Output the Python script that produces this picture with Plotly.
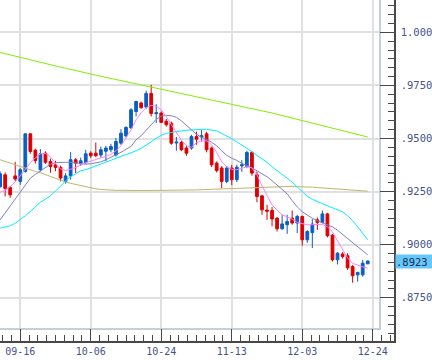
import plotly.graph_objects as go

# ---------------- data ----------------
bars = list(range(-4, 70))  # trading-day index; 0 = 09-16

opens = [0.9273, 0.9329, 0.9269, 0.9324, 0.9298, 0.9345, 0.9522, 0.9445, 0.9353, 0.9431,
         0.9392, 0.9376, 0.9364, 0.9298, 0.9324, 0.9400, 0.9381, 0.9387, 0.9431, 0.9431,
         0.9422, 0.9440, 0.9447, 0.9422, 0.9478, 0.9512, 0.9550, 0.9627, 0.9667, 0.9648,
         0.9712, 0.9617, 0.9620, 0.9581, 0.9572, 0.9479, 0.9481, 0.9455, 0.9455, 0.9509,
         0.9507, 0.9522, 0.9455, 0.9384, 0.9361, 0.9298, 0.9361, 0.9306, 0.9371, 0.9368,
         0.9434, 0.9329, 0.9230, 0.9163, 0.9161, 0.9125, 0.9075, 0.9094, 0.9125, 0.9102,
         0.9133, 0.9023, 0.9057, 0.9117, 0.9105, 0.9145, 0.9045, 0.8929, 0.8956, 0.8948,
         0.8897, 0.8858, 0.8858, 0.8910]
highs = [0.9345, 0.9340, 0.9277, 0.9390, 0.9361, 0.9524, 0.9524, 0.9452, 0.9450, 0.9440,
         0.9405, 0.9395, 0.9372, 0.9337, 0.9436, 0.9408, 0.9410, 0.9447, 0.9440, 0.9481,
         0.9462, 0.9466, 0.9475, 0.9502, 0.9544, 0.9558, 0.9643, 0.9678, 0.9674, 0.9725,
         0.9753, 0.9662, 0.9627, 0.9592, 0.9580, 0.9507, 0.9490, 0.9466, 0.9517, 0.9532,
         0.9541, 0.9532, 0.9462, 0.9392, 0.9370, 0.9370, 0.9376, 0.9376, 0.9398, 0.9443,
         0.9440, 0.9345, 0.9235, 0.9188, 0.9177, 0.9130, 0.9141, 0.9141, 0.9161, 0.9141,
         0.9137, 0.9068, 0.9120, 0.9128, 0.9161, 0.9150, 0.9050, 0.8965, 0.8965, 0.8960,
         0.8905, 0.8873, 0.8929, 0.8925]
lows = [0.9268, 0.9227, 0.9221, 0.9300, 0.9282, 0.9340, 0.9428, 0.9382, 0.9345, 0.9380,
        0.9339, 0.9346, 0.9298, 0.9287, 0.9306, 0.9337, 0.9372, 0.9380, 0.9408, 0.9412,
        0.9410, 0.9393, 0.9435, 0.9415, 0.9470, 0.9505, 0.9545, 0.9604, 0.9640, 0.9640,
        0.9604, 0.9573, 0.9572, 0.9556, 0.9470, 0.9443, 0.9440, 0.9418, 0.9447, 0.9470,
        0.9486, 0.9435, 0.9366, 0.9340, 0.9267, 0.9290, 0.9280, 0.9295, 0.9343, 0.9360,
        0.9325, 0.9200, 0.9141, 0.9117, 0.9086, 0.9062, 0.9070, 0.9051, 0.9094, 0.9055,
        0.8995, 0.9009, 0.8984, 0.9070, 0.9100, 0.9035, 0.8921, 0.8907, 0.8935, 0.8882,
        0.8821, 0.8826, 0.8850, 0.8908]
closes = [0.9334, 0.9265, 0.9235, 0.9309, 0.9353, 0.9522, 0.9439, 0.9396, 0.9428, 0.9388,
          0.9368, 0.9364, 0.9314, 0.9324, 0.9400, 0.9384, 0.9395, 0.9428, 0.9419, 0.9419,
          0.9447, 0.9455, 0.9462, 0.9486, 0.9525, 0.9552, 0.9635, 0.9674, 0.9645, 0.9712,
          0.9618, 0.9621, 0.9576, 0.9565, 0.9478, 0.9483, 0.9447, 0.9431, 0.9509, 0.9497,
          0.9513, 0.9447, 0.9376, 0.9349, 0.9298, 0.9361, 0.9306, 0.9365, 0.9376, 0.9434,
          0.9337, 0.9227, 0.9164, 0.9158, 0.9121, 0.9075, 0.9098, 0.9109, 0.9102, 0.9133,
          0.9023, 0.9062, 0.9097, 0.9105, 0.9145, 0.9042, 0.8929, 0.8960, 0.8944, 0.8891,
          0.8854, 0.8869, 0.8913, 0.8923]

ma_pink = [0.9247, 0.9256, 0.9273, 0.9296, 0.9324, 0.9353, 0.9386, 0.9409, 0.9428, 0.9430,
           0.9414, 0.9381, 0.9357, 0.9350, 0.9355, 0.9364, 0.9376, 0.9386, 0.9393, 0.9400,
           0.9407, 0.9416, 0.9426, 0.9442, 0.9466, 0.9503, 0.9541, 0.9588, 0.9621, 0.9645,
           0.9656, 0.9652, 0.9635, 0.9602, 0.9564, 0.9527, 0.9492, 0.9466, 0.9459, 0.9480,
           0.9489, 0.9489, 0.9470, 0.9435, 0.9390, 0.9367, 0.9355, 0.9353, 0.9360, 0.9367,
           0.9362, 0.9329, 0.9277, 0.9230, 0.9188, 0.9162, 0.9141, 0.9131, 0.9120, 0.9105,
           0.9098, 0.9094, 0.9094, 0.9096, 0.9096, 0.9084, 0.9061, 0.9018, 0.8976, 0.8938,
           0.8912, 0.8903, 0.8896, 0.8889]
ma_purple = [0.9117, 0.9150, 0.9181, 0.9211, 0.9244, 0.9280, 0.9313, 0.9331, 0.9348, 0.9364,
             0.9379, 0.9386, 0.9388, 0.9388, 0.9388, 0.9386, 0.9383, 0.9379, 0.9381, 0.9386,
             0.9390, 0.9400, 0.9411, 0.9421, 0.9435, 0.9449, 0.9463, 0.9494, 0.9513, 0.9539,
             0.9567, 0.9590, 0.9605, 0.9609, 0.9607, 0.9600, 0.9583, 0.9562, 0.9541, 0.9520,
             0.9506, 0.9496, 0.9482, 0.9466, 0.9442, 0.9421, 0.9407, 0.9397, 0.9383, 0.9374,
             0.9362, 0.9348, 0.9334, 0.9320, 0.9301, 0.9282, 0.9263, 0.9240, 0.9207, 0.9178,
             0.9155, 0.9138, 0.9124, 0.9113, 0.9103, 0.9096, 0.9084, 0.9068, 0.9049, 0.9030,
             0.9011, 0.8990, 0.8971, 0.8952]
ma_cyan = [0.9078, 0.9082, 0.9089, 0.9101, 0.9117, 0.9136, 0.9157, 0.9178, 0.9200, 0.9214,
           0.9230, 0.9254, 0.9275, 0.9301, 0.9320, 0.9334, 0.9348, 0.9353, 0.9362, 0.9371,
           0.9381, 0.9388, 0.9397, 0.9407, 0.9416, 0.9423, 0.9433, 0.9442, 0.9454, 0.9468,
           0.9484, 0.9501, 0.9515, 0.9524, 0.9529, 0.9534, 0.9536, 0.9539, 0.9541, 0.9541,
           0.9543, 0.9543, 0.9541, 0.9536, 0.9524, 0.9513, 0.9499, 0.9484, 0.9470, 0.9454,
           0.9437, 0.9421, 0.9407, 0.9388, 0.9367, 0.9350, 0.9331, 0.9313, 0.9294, 0.9273,
           0.9249, 0.9228, 0.9214, 0.9202, 0.9193, 0.9183, 0.9174, 0.9164, 0.9155, 0.9136,
           0.9113, 0.9084, 0.9056, 0.9023]
ma_olive = [0.9400, 0.9392, 0.9384, 0.9376, 0.9367, 0.9360, 0.9352, 0.9345, 0.9339, 0.9330,
            0.9320, 0.9311, 0.9303, 0.9295, 0.9289, 0.9284, 0.9279, 0.9272, 0.9266, 0.9263,
            0.9260, 0.9258, 0.9257, 0.9256, 0.9256, 0.9255, 0.9255, 0.9255, 0.9255, 0.9255,
            0.9255, 0.9255, 0.9255, 0.9255, 0.9256, 0.9256, 0.9257, 0.9257, 0.9258, 0.9258,
            0.9259, 0.9260, 0.9261, 0.9262, 0.9263, 0.9265, 0.9266, 0.9267, 0.9268, 0.9269,
            0.9270, 0.9271, 0.9272, 0.9273, 0.9273, 0.9274, 0.9274, 0.9274, 0.9274, 0.9274,
            0.9274, 0.9273, 0.9271, 0.9269, 0.9267, 0.9265, 0.9263, 0.9261, 0.9259, 0.9257,
            0.9256, 0.9254, 0.9253, 0.9252]
ma_green = [0.9905, 0.9899, 0.9893, 0.9888, 0.9882, 0.9876, 0.9870, 0.9865, 0.9859, 0.9853,
            0.9847, 0.9842, 0.9836, 0.9831, 0.9825, 0.9820, 0.9814, 0.9809, 0.9803, 0.9798,
            0.9793, 0.9788, 0.9783, 0.9778, 0.9773, 0.9768, 0.9763, 0.9758, 0.9753, 0.9748,
            0.9743, 0.9738, 0.9733, 0.9728, 0.9723, 0.9718, 0.9713, 0.9708, 0.9703, 0.9698,
            0.9693, 0.9688, 0.9683, 0.9678, 0.9673, 0.9668, 0.9663, 0.9658, 0.9652, 0.9647,
            0.9642, 0.9636, 0.9631, 0.9625, 0.9620, 0.9614, 0.9608, 0.9603, 0.9597, 0.9591,
            0.9585, 0.9579, 0.9573, 0.9567, 0.9561, 0.9555, 0.9549, 0.9543, 0.9537, 0.9531,
            0.9525, 0.9519, 0.9513, 0.9507]

tick_bars = [0, 14, 28, 42, 56, 70]
tick_labels = ["09-16", "10-06", "10-24", "11-13", "12-03", "12-24"]
price_ticks = [0.875, 0.900, 0.925, 0.950, 0.975, 1.000]
price_labels = [".8750", ".9000", ".9250", ".9500", ".9750", "1.000"]

# ---------------- layout geometry (pixels) ----------------
W, H = 432, 360
frame_right, frame_bottom = 387, 328
axis_right, axis_bottom = 402, 341
bar_px = 72 / 14
x_left = -20.7 / bar_px
unit_px = 2124.0
y_top = 1.0 + 32.3 / unit_px

def xr(px):
    return [x_left, x_left + px / bar_px]

def yr(px):
    return [y_top - px / unit_px, y_top]

n = len(opens)
xs = bars[:n]

UP = "#0a5fc4"
DOWN = "#dc0000"
AXC = "#484848"
TXT = "#44538a"
MONO = "DejaVu Sans Mono, Liberation Mono, monospace"
XFONT = dict(family=MONO, size=10, color=TXT)
YFONT = dict(family=MONO, size=10.5, color=TXT)

fig = go.Figure()
fig.add_trace(go.Candlestick(
    x=xs, open=opens, high=highs, low=lows, close=closes,
    increasing=dict(line=dict(color=UP, width=1), fillcolor=UP),
    decreasing=dict(line=dict(color=DOWN, width=1), fillcolor=DOWN),
    whiskerwidth=0, hoverinfo="skip", showlegend=False,
))
for arr, col in [(ma_olive, "#bdb76b"), (ma_green, "#80f000"), (ma_cyan, "#00eeff"),
                 (ma_purple, "#8080c0"), (ma_pink, "#ff80ff")]:
    fig.add_trace(go.Scatter(x=bars[:len(arr)], y=arr, mode="lines",
                             line=dict(color=col, width=1), hoverinfo="skip",
                             showlegend=False))
# carrier trace for the outer (dark) axes
fig.add_trace(go.Scatter(x=[None], y=[None], xaxis="x2", yaxis="y2",
                         showlegend=False, hoverinfo="skip"))

fig.update_layout(
    width=W, height=H, margin=dict(l=0, r=0, t=0, b=0),
    paper_bgcolor="white", plot_bgcolor="rgba(0,0,0,0)",
    showlegend=False, boxgap=0.22,
    xaxis=dict(domain=[0, frame_right / W], range=xr(frame_right),
               tickmode="array", tickvals=tick_bars, showticklabels=False, ticks="",
               showgrid=True, gridcolor="#e0e0e0", gridwidth=2, zeroline=False,
               showline=True, linecolor="#c6cfd9", linewidth=2,
               rangeslider=dict(visible=False), fixedrange=True),
    yaxis=dict(domain=[1 - frame_bottom / H, 1], range=yr(frame_bottom), side="right",
               tickmode="array", tickvals=price_ticks, showticklabels=False, ticks="",
               showgrid=True, gridcolor="#e0e0e0", gridwidth=2, zeroline=False,
               showline=True, linecolor="#c6cfd9", linewidth=2, fixedrange=True),
    xaxis2=dict(domain=[0, axis_right / W], range=xr(axis_right), anchor="y2",
                tickmode="array", tickvals=tick_bars, ticktext=tick_labels,
                ticks="inside", ticklen=12, tickwidth=1, tickcolor=AXC,
                minor=dict(tickmode="linear", tick0=0, dtick=1.75, ticks="inside",
                           ticklen=6, tickwidth=1, tickcolor=AXC, showgrid=False),
                showgrid=False, zeroline=False, showline=True, linecolor=AXC,
                linewidth=2, tickfont=XFONT, fixedrange=True),
    yaxis2=dict(domain=[1 - axis_bottom / H, 1], range=yr(axis_bottom), anchor="x2",
                side="right", tickmode="array", tickvals=price_ticks,
                ticktext=price_labels, ticks="inside", ticklen=14, tickwidth=1,
                tickcolor=AXC, ticklabelstandoff=3,
                minor=dict(tickmode="linear", tick0=0.875, dtick=0.025 / 6,
                           ticks="inside", ticklen=6, tickwidth=1, tickcolor=AXC,
                           showgrid=False),
                showgrid=False, zeroline=False, showline=True, linecolor=AXC,
                linewidth=2, tickfont=YFONT, fixedrange=True),
)

last_txt = ("%.4f" % closes[-1]).lstrip("0")
fig.add_annotation(xref="paper", yref="y", x=(axis_right + 1) / W, y=closes[-1],
                   xanchor="left", yanchor="middle", text=last_txt, showarrow=False,
                   font=dict(family=MONO, size=10.5, color="#1a2a5a"),
                   bgcolor="#66c8fa", width=40, height=13, align="left", borderpad=0)

fig.write_html("out.html", config={"displayModeBar": False},
               post_script="document.body.style.margin='0';document.body.style.overflow='hidden';")
